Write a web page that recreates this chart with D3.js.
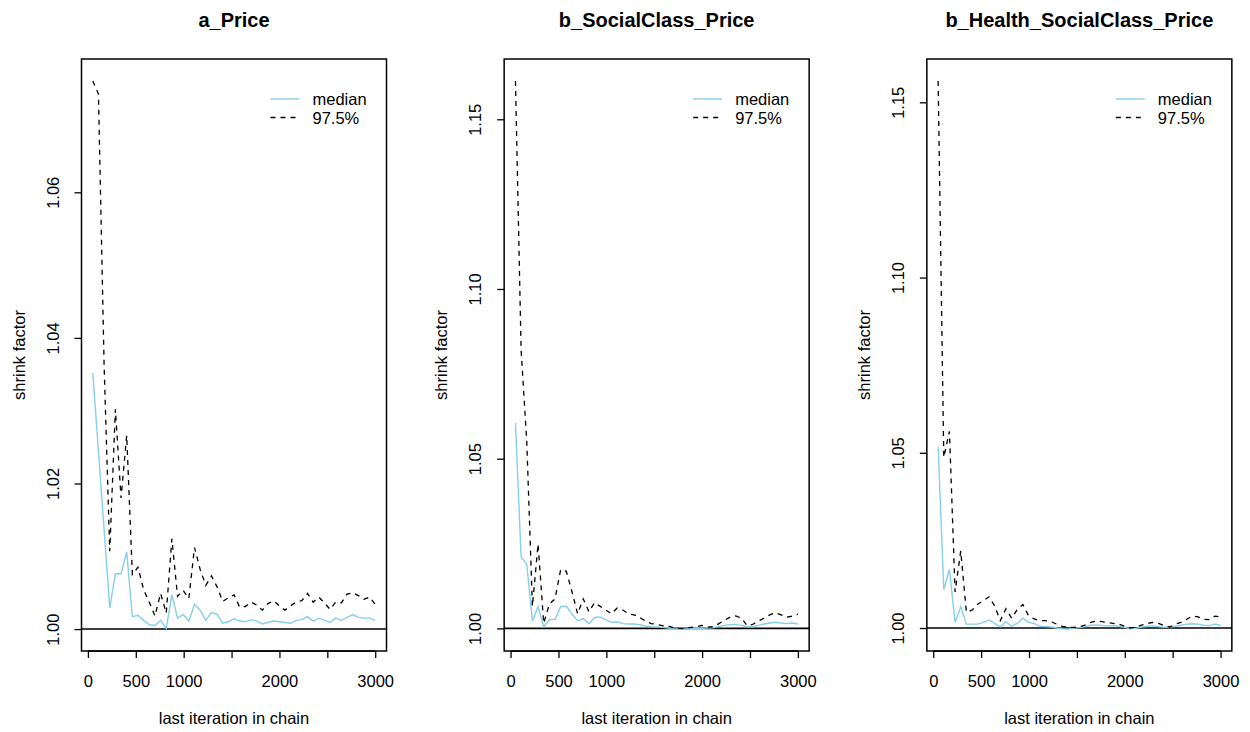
<!DOCTYPE html>
<html>
<head>
<meta charset="utf-8">
<script src="https://cdn.jsdelivr.net/npm/d3@7"></script>
<style>
  body { margin: 0; background: #fff; }
  svg text { font-family: "Liberation Sans", Arial, sans-serif; fill: #000; }
</style>
</head>
<body>
<svg id="chart"></svg>
<script>
// last iteration in chain for each bin (coda gelman.plot bins)
const iterations = [51, 110, 169, 228, 287, 346, 405, 464, 523, 582, 641, 700, 759, 818, 877, 936, 995,
  1054, 1113, 1172, 1231, 1290, 1349, 1408, 1467, 1526, 1585, 1644, 1703, 1762, 1821, 1880, 1939,
  1998, 2057, 2116, 2175, 2234, 2293, 2352, 2411, 2470, 2529, 2588, 2647, 2706, 2765, 2824, 2883,
  2942, 3000];

const titles = ["a_Price", "b_SocialClass_Price", "b_Health_SocialClass_Price"];

const aPriceMedian = [1.0352, 1.0244, 1.0137, 1.0029, 1.0076, 1.0076, 1.0106, 1.0017, 1.0019, 1.0012,
  1.0006, 1.0005, 1.0012, 1.0001, 1.0047, 1.0015, 1.0020, 1.0011, 1.0034, 1.0026, 1.0012, 1.0023,
  1.0020, 1.0008, 1.0010, 1.0014, 1.0011, 1.0010, 1.0013, 1.0011, 1.0007, 1.0009, 1.0011, 1.0010,
  1.0009, 1.0008, 1.0012, 1.0013, 1.0017, 1.0011, 1.0015, 1.0012, 1.0009, 1.0015, 1.0012, 1.0016,
  1.0020, 1.0016, 1.0015, 1.0015, 1.0012];
const aPriceUpper = [1.0753, 1.0735, 1.0363, 1.0107, 1.0302, 1.0180, 1.0266, 1.0075, 1.0085, 1.0054,
  1.0037, 1.0018, 1.0049, 1.0022, 1.0124, 1.0045, 1.0053, 1.0042, 1.0112, 1.0082, 1.0060, 1.0073,
  1.0058, 1.0038, 1.0043, 1.0047, 1.0030, 1.0031, 1.0037, 1.0033, 1.0026, 1.0035, 1.0039, 1.0032,
  1.0026, 1.0032, 1.0037, 1.0039, 1.0049, 1.0037, 1.0044, 1.0036, 1.0027, 1.0037, 1.0036, 1.0048,
  1.0050, 1.0046, 1.0041, 1.0044, 1.0034];

const socialMedian = [1.0605, 1.0211, 1.0189, 1.0022, 1.0064, 1.0005, 1.0025, 1.0027, 1.0064, 1.0065,
  1.0043, 1.0022, 1.0029, 1.0014, 1.0032, 1.0034, 1.0025, 1.0018, 1.0019, 1.0014, 1.0013, 1.0013,
  1.0011, 1.0007, 1.0005, 1.0004, 1.0003, 1.0001, 0.9999, 0.9998, 0.9998, 1.0000, 1.0001, 1.0000,
  1.0001, 1.0002, 1.0006, 1.0009, 1.0011, 1.0011, 1.0009, 1.0005, 1.0005, 1.0009, 1.0013, 1.0016,
  1.0018, 1.0016, 1.0014, 1.0016, 1.0013];
const socialUpper = [1.1613, 1.0820, 1.0550, 1.0065, 1.0249, 1.0015, 1.0072, 1.0087, 1.0173, 1.0168,
  1.0108, 1.0043, 1.0087, 1.0049, 1.0076, 1.0065, 1.0054, 1.0043, 1.0060, 1.0054, 1.0043, 1.0040,
  1.0032, 1.0022, 1.0014, 1.0012, 1.0008, 1.0007, 1.0002, 1.0000, 0.9999, 1.0003, 1.0005, 1.0009,
  1.0004, 1.0005, 1.0014, 1.0024, 1.0033, 1.0037, 1.0030, 1.0008, 1.0012, 1.0022, 1.0030, 1.0040,
  1.0046, 1.0040, 1.0033, 1.0036, 1.0042];

const healthMedian = [1.0518, 1.0110, 1.0167, 1.0016, 1.0061, 1.0011, 1.0011, 1.0011, 1.0016, 1.0023,
  1.0013, 1.0003, 1.0018, 1.0005, 1.0013, 1.0028, 1.0016, 1.0013, 1.0005, 1.0004, 1.0003, 1.0000,
  0.9998, 0.9997, 1.0000, 1.0001, 1.0004, 1.0008, 1.0009, 1.0007, 1.0006, 1.0007, 1.0005, 1.0002,
  0.9998, 0.9999, 1.0003, 1.0005, 1.0006, 1.0004, 1.0002, 1.0003, 1.0005, 1.0008, 1.0011, 1.0012,
  1.0011, 1.0008, 1.0007, 1.0011, 1.0008];
const healthUpper = [1.1561, 1.0487, 1.0561, 1.0103, 1.0220, 1.0045, 1.0051, 1.0068, 1.0078, 1.0089,
  1.0063, 1.0021, 1.0055, 1.0028, 1.0053, 1.0067, 1.0035, 1.0026, 1.0021, 1.0021, 1.0018, 1.0011,
  1.0005, 1.0002, 1.0002, 1.0004, 1.0008, 1.0016, 1.0020, 1.0018, 1.0016, 1.0013, 1.0011, 1.0005,
  1.0000, 1.0003, 1.0008, 1.0013, 1.0016, 1.0013, 1.0007, 1.0003, 1.0011, 1.0016, 1.0025, 1.0034,
  1.0032, 1.0025, 1.0024, 1.0034, 1.0032];

const medians = [aPriceMedian, socialMedian, healthMedian];
const uppers = [aPriceUpper, socialUpper, healthUpper];

const yTicks = [[1.00, 1.02, 1.04, 1.06], [1.00, 1.05, 1.10, 1.15], [1.00, 1.05, 1.10, 1.15]];
const xTicks = [0, 500, 1000, 1500, 2000, 2500, 3000];
const xTickLabels = ["0", "500", "1000", "", "2000", "", "3000"];
const legendLabels = ["median", "97.5%"];

const W = 1250, H = 732;
const boxTop = 59, boxBottom = 651, boxW = 305;
const panelStep = 422.67, firstLeft = 81.5;
const medianColor = "#87ceeb";
const baseFont = "16.5px";

const svg = d3.select("#chart").attr("width", W).attr("height", H);
svg.append("rect").attr("width", W).attr("height", H).attr("fill", "#fff");

// R-style range: data extent padded by 4% each side
function rRange(lo, hi) {
  const pad = (hi - lo) * 0.04;
  return [lo - pad, hi + pad];
}

titles.forEach((title, i) => {
  const left = firstLeft + i * panelStep;
  const right = left + boxW;
  const g = svg.append("g");

  const x = d3.scaleLinear()
    .domain(rRange(d3.min(iterations), d3.max(iterations)))
    .range([left, right]);

  const allY = medians[i].concat(uppers[i]);
  const y = d3.scaleLinear()
    .domain(rRange(Math.min(1, d3.min(allY)), d3.max(allY)))
    .range([boxBottom, boxTop]);

  // horizontal reference at 1
  g.append("line")
    .attr("x1", left).attr("x2", right)
    .attr("y1", y(1)).attr("y2", y(1))
    .attr("stroke", "#000").attr("stroke-width", 1.6);

  const line = d3.line()
    .x((d, j) => x(iterations[j]))
    .y(d => y(d));

  g.append("path")
    .datum(medians[i])
    .attr("d", line)
    .attr("fill", "none")
    .attr("stroke", medianColor)
    .attr("stroke-width", 1.4);

  g.append("path")
    .datum(uppers[i])
    .attr("d", line)
    .attr("fill", "none")
    .attr("stroke", "#000")
    .attr("stroke-width", 1.3)
    .attr("stroke-dasharray", "5,5");

  // box
  g.append("rect")
    .attr("x", left).attr("y", boxTop)
    .attr("width", boxW).attr("height", boxBottom - boxTop)
    .attr("fill", "none").attr("stroke", "#000").attr("stroke-width", 1.5);

  // x axis
  const xAxis = d3.axisBottom(x)
    .tickValues(xTicks)
    .tickSize(7)
    .tickFormat((d, j) => xTickLabels[j]);
  const xg = g.append("g")
    .attr("transform", `translate(0,${boxBottom})`)
    .call(xAxis);
  xg.select(".domain").attr("stroke", "#000").attr("stroke-width", 1.3)
    .attr("d", `M${x(0)},0H${x(3000)}`);
  xg.selectAll(".tick line").attr("stroke", "#000").attr("stroke-width", 1.3);
  xg.selectAll(".tick text")
    .attr("y", 31).attr("dy", "0.32em")
    .attr("font-size", baseFont)
    .attr("font-family", "Liberation Sans, Arial, sans-serif");

  // y axis
  const yAxis = d3.axisLeft(y)
    .tickValues(yTicks[i])
    .tickSize(7)
    .tickFormat(d3.format(".2f"));
  const yg = g.append("g")
    .attr("transform", `translate(${left},0)`)
    .call(yAxis);
  yg.select(".domain").remove();
  yg.selectAll(".tick line").attr("stroke", "#000").attr("stroke-width", 1.3);
  yg.selectAll(".tick text")
    .attr("x", null).attr("dy", null)
    .attr("text-anchor", "middle")
    .attr("font-size", baseFont)
    .attr("font-family", "Liberation Sans, Arial, sans-serif")
    .attr("transform", "translate(-23,0) rotate(-90)");

  // titles
  g.append("text")
    .attr("x", (left + right) / 2).attr("y", 27)
    .attr("text-anchor", "middle")
    .attr("font-size", "20px")
    .attr("font-weight", "bold")
    .text(title);

  g.append("text")
    .attr("x", (left + right) / 2).attr("y", 724)
    .attr("text-anchor", "middle")
    .attr("font-size", baseFont)
    .text("last iteration in chain");

  g.append("text")
    .attr("transform", `translate(${left - 57},${(boxTop + boxBottom) / 2}) rotate(-90)`)
    .attr("text-anchor", "middle")
    .attr("font-size", baseFont)
    .text("shrink factor");

  // legend
  const lg = g.append("g").attr("transform", `translate(${right - 116},0)`);
  legendLabels.forEach((lab, j) => {
    const ly = 99 + j * 18.5;
    lg.append("line")
      .attr("x1", 0).attr("x2", 29)
      .attr("y1", ly).attr("y2", ly)
      .attr("stroke", j === 0 ? medianColor : "#000")
      .attr("stroke-width", j === 0 ? 1.4 : 1.3)
      .attr("stroke-dasharray", j === 0 ? null : "5,5");
    lg.append("text")
      .attr("x", 42).attr("y", ly + 6)
      .attr("font-size", baseFont)
      .text(lab);
  });
});
</script>
</body>
</html>
